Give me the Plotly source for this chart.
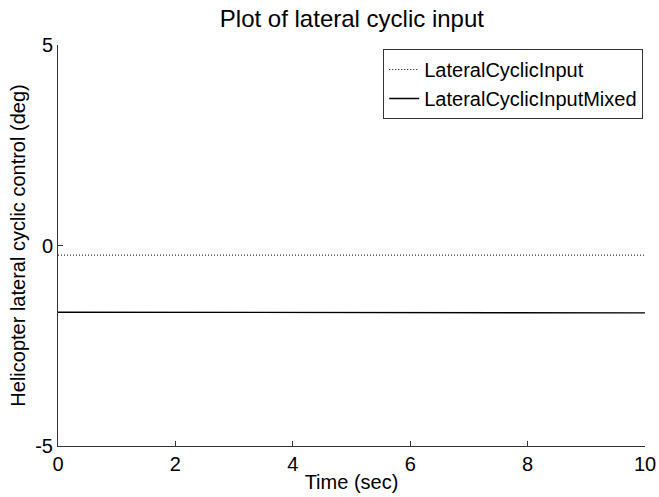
import plotly.graph_objects as go

# Data
t_input = [0, 10]
lateral_input = [-0.24, -0.24]
t_mixed = [0, 7.84, 7.84, 10]
lateral_mixed = [-1.665, -1.665, -1.68, -1.68]

x_ticks = [0, 2, 4, 6, 8, 10]
y_ticks = [-5, 0, 5]
y_tick_text = ["-5", "0", "5"]

FONT = "Liberation Sans, Arial, sans-serif"

fig = go.Figure()
fig.add_trace(go.Scatter(x=t_input, y=lateral_input, mode="lines",
                         name="LateralCyclicInput",
                         line=dict(color="black", width=1, dash="1px,2px")))
fig.add_trace(go.Scatter(x=t_mixed, y=lateral_mixed, mode="lines",
                         name="LateralCyclicInputMixed",
                         line=dict(color="black", width=1.3)))

fig.update_layout(
    width=659, height=497,
    margin=dict(l=57.5, r=14, t=45, b=51, autoexpand=False),
    paper_bgcolor="white", plot_bgcolor="white",
    font=dict(family=FONT, size=20, color="black"),
    title=dict(text="Plot of lateral cyclic input", x=0.534, xanchor="center",
               y=0.962, yanchor="middle", font=dict(size=24, family=FONT)),
    showlegend=True,
    legend=dict(x=0.997, xanchor="right", y=0.99, yanchor="top",
                bordercolor="#333", borderwidth=1, bgcolor="white",
                font=dict(size=20, family=FONT), tracegroupgap=0,
                itemwidth=30),
    xaxis=dict(range=[0, 10], tickvals=x_ticks, ticks="inside", ticklen=5,
               tickcolor="#333", showline=True, linecolor="#333", linewidth=1,
               showgrid=False, zeroline=False, mirror=False, automargin=False,
               title=dict(text="Time (sec)", standoff=0, font=dict(size=20)),
               tickfont=dict(size=20)),
    yaxis=dict(range=[-5, 5], tickvals=y_ticks, ticktext=y_tick_text,
               ticks="inside", ticklen=5,
               tickcolor="#333", showline=True, linecolor="#333", linewidth=1,
               showgrid=False, zeroline=False, mirror=False, automargin=False,
               title=dict(text="Helicopter lateral cyclic control (deg)", standoff=4,
                          font=dict(size=20)),
               tickfont=dict(size=20)),
)

fig.write_html("out.html")
